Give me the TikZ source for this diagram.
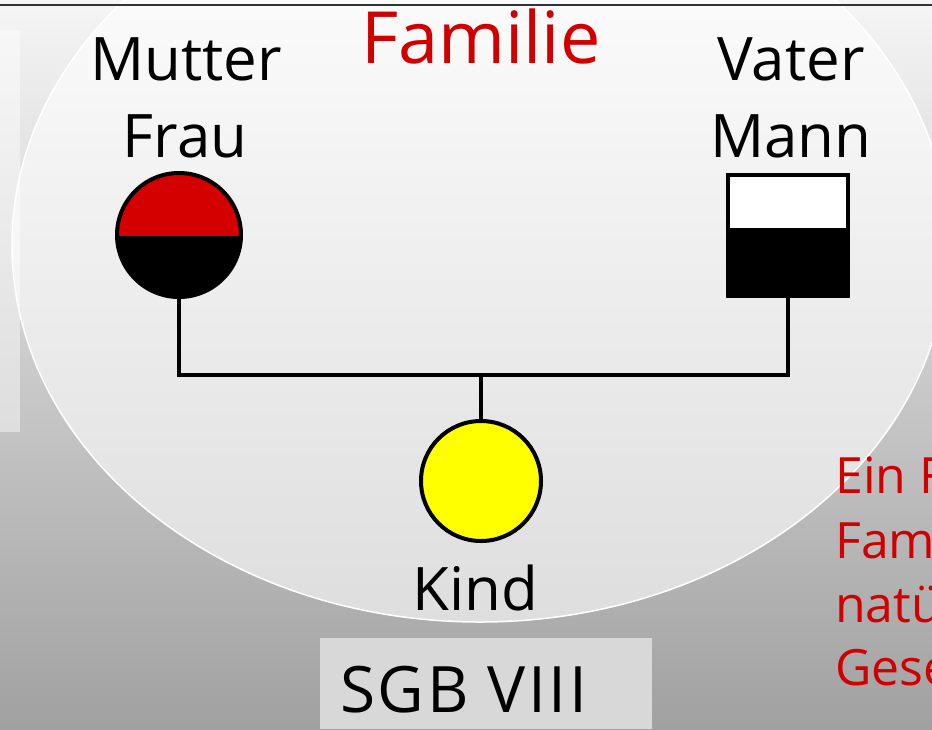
\documentclass[tikz,border=0pt]{standalone}
\usepackage{fontspec}
\setmainfont{Open Sans}
\definecolor{famred}{HTML}{D00000}
\definecolor{symred}{HTML}{D40000}
\definecolor{kindyellow}{HTML}{FFFF00}
\definecolor{sgbgray}{HTML}{D8D8D8}
\begin{document}
\begin{tikzpicture}[x=1pt,y=-1pt,
  label/.style={font=\fontsize{60}{60}\selectfont, text=black, anchor=base, inner sep=0pt},
  redtext/.style={font=\fontsize{50}{50}\selectfont, text=famred, anchor=base west, inner sep=0pt},
  conn/.style={line width=4pt, black},
  sym/.style={line width=4pt, draw=black, inner sep=0pt}]
\useasboundingbox (0,0) rectangle (932,729);
\begin{scope}
\clip (0,0) rectangle (932,729);
% background gradient
\shade[top color=white!96!black, bottom color=black!37] (0,0) rectangle (932,729);
% left bar
\fill[white, opacity=0.45] (0,30) rectangle (20,432);
% family ellipse
\fill[white, opacity=0.6] (480,245) ellipse [x radius=468, y radius=377];
\draw[white, line width=1.5pt] (480,245) ellipse [x radius=468, y radius=377];
% top rule
\draw[black!80, line width=2pt] (0,5) -- (932,5);
% SGB box
\fill[sgbgray] (320,638) rectangle (652,729);
\node[anchor=base west, inner sep=0pt, font=\fontsize{64}{64}\selectfont\addfontfeatures{LetterSpace=4}] (sgb) at (340,712) {SGB VIII};
% title
\node[anchor=base, inner sep=0pt, text=famred, font=\fontsize{72}{72}\selectfont] (title) at (481,63) {Familie};
% labels
\node[label] (lmutter) at (186,80) {Mutter};
\node[label] (lfrau) at (185,157) {Frau};
\node[label] (lvater) at (791,80) {Vater};
\node[label] (lmann) at (791,157) {Mann};
\node[label] (lkind) at (475,610) {Kind};
% symbols
\node[sym, circle, minimum size=124pt,
  path picture={
    \fill[symred] (-70,-70) rectangle (70,1);
    \fill[black] (-70,1) rectangle (70,70);
  }] (mutter) at (179,235) {};
\node[sym, rectangle, minimum width=120pt, minimum height=121pt,
  path picture={
    \fill[white] (-70,-70) rectangle (70,-7);
    \fill[black] (-70,-7) rectangle (70,70);
  }] (vater) at (787.5,235) {};
\node[sym, circle, minimum size=120pt, fill=kindyellow] (kind) at (481,481) {};
% connectors
\coordinate (junction) at (481,375);
\draw[conn] (mutter.south) -- (mutter.south |- junction) -- (vater.south |- junction) -- (vater.south);
\draw[conn] (kind.north) -- (kind.north |- junction);
% red text (cut at the right edge, as in the reference)
\node[redtext] (r1) at (835,493) {Ein F};
\node[redtext] (r2) at (835,558) {Fam};
\node[redtext] (r3) at (835,622) {natü};
\node[redtext] (r4) at (835,685) {Gese};
\end{scope}
\end{tikzpicture}
\end{document}
